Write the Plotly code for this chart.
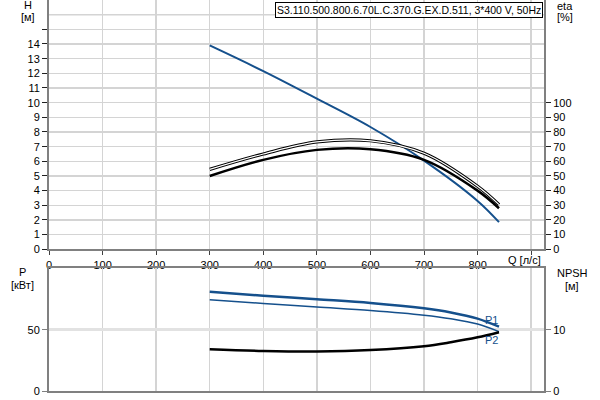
import plotly.graph_objects as go

# ---- data ----
q_h = [300, 400, 500, 600, 700, 800, 840]
head_m = [13.9, 12.15, 10.27, 8.34, 6.05, 3.3, 1.85]

q_eta = [300, 400, 500, 600, 700, 800, 840]
eta_lower = [50, 61.0, 67.8, 68.2, 61.0, 40.0, 28.0]
eta_upper = [54.5, 65.0, 73.2, 74.0, 65.5, 43.0, 30.5]

q_p = [300, 400, 500, 600, 700, 750, 800, 840]
p1_kw = [80.8, 77.7, 74.8, 71.8, 67.4, 64.0, 59.0, 52.4]
p2_kw = [74.4, 71.3, 68.4, 65.6, 61.8, 58.9, 54.6, 48.4]
npsh_m = [6.82, 6.54, 6.45, 6.68, 7.3, 7.95, 8.75, 9.58]

q_ticks = [0, 100, 200, 300, 400, 500, 600, 700, 800, 900]
q_ticktext = ["0", "100", "200", "300", "400", "500", "600", "700", "800", ""]
h_ticks = list(range(0, 16))
h_ticktext = [str(v) for v in range(0, 15)] + [""]
eta_ticks = list(range(0, 101, 10))

title_text = "S3.110.500.800.6.70L.C.370.G.EX.D.511, 3*400 V, 50Hz"

BLUE = "#15508c"
FONT = "Liberation Sans"
AX = "#808080"
GRID = "#d4d4d4"

W, H = 600, 400
L, R, T, B = 49, 56, 0, 9
PW, PH = W - L - R, H - T - B


def px(x):
    return (x - L) / PW


def py(y):
    return (H - B - y) / PH


top_dom = [py(249.3), 1]
bot_dom = [0, py(268.3)]

fig = go.Figure()

fig.add_trace(go.Scatter(x=q_h, y=head_m, mode="lines", line=dict(color=BLUE, width=2, shape="spline"),
                         xaxis="x", yaxis="y", showlegend=False))
fig.add_trace(go.Scatter(x=q_eta, y=eta_upper, mode="lines", line=dict(color="black", width=3.2, shape="spline"),
                         xaxis="x", yaxis="y2", showlegend=False))
fig.add_trace(go.Scatter(x=q_eta, y=eta_upper, mode="lines", line=dict(color="white", width=1.2, shape="spline"),
                         xaxis="x", yaxis="y2", showlegend=False))
fig.add_trace(go.Scatter(x=q_eta, y=eta_lower, mode="lines", line=dict(color="black", width=2.5, shape="spline"),
                         xaxis="x", yaxis="y2", showlegend=False))

fig.add_trace(go.Scatter(x=q_p, y=p1_kw, mode="lines", line=dict(color=BLUE, width=2.5, shape="spline"),
                         xaxis="x2", yaxis="y3", showlegend=False))
fig.add_trace(go.Scatter(x=q_p, y=p2_kw, mode="lines", line=dict(color=BLUE, width=1.5, shape="spline"),
                         xaxis="x2", yaxis="y3", showlegend=False))
fig.add_trace(go.Scatter(x=q_p, y=npsh_m, mode="lines", line=dict(color="black", width=2.5, shape="spline"),
                         xaxis="x2", yaxis="y4", showlegend=False))

tickfont = dict(family=FONT, size=11, color="black")

fig.update_layout(
    width=W, height=H,
    margin=dict(l=L, r=R, t=T, b=B, autoexpand=False),
    paper_bgcolor="white", plot_bgcolor="white",
    font=dict(family=FONT, size=11, color="black"),
    hovermode=False,
    xaxis=dict(domain=[0, 1], range=[0, 924], anchor="y", tickmode="array", tickvals=q_ticks,
               ticktext=q_ticktext, showgrid=True, gridcolor=GRID, gridwidth=1.5, zeroline=False,
               showline=True, linecolor=AX, linewidth=2, ticks="outside", ticklen=4, tickcolor="#404040",
               tickfont=tickfont),
    yaxis=dict(domain=top_dom, range=[0, 17], tickmode="array", tickvals=h_ticks, ticktext=h_ticktext,
               showgrid=True, gridcolor=GRID, gridwidth=1.5, zeroline=False, showline=True, linecolor=AX,
               linewidth=2, ticks="outside", ticklen=5, tickcolor="#202020", tickfont=tickfont),
    yaxis2=dict(overlaying="y", side="right", anchor="x", range=[0, 170], tickmode="array", tickvals=eta_ticks,
                showgrid=False, zeroline=False, showline=True, linecolor=AX, linewidth=2, ticks="outside",
                ticklen=5, tickcolor="#202020", tickfont=tickfont),
    xaxis2=dict(domain=[0, 1], range=[0, 924], anchor="y3", tickmode="array", tickvals=q_ticks,
                showticklabels=False, showgrid=True, gridcolor=GRID, gridwidth=1.5, zeroline=False,
                showline=True, mirror=True, linecolor=AX, linewidth=2, ticks=""),
    yaxis3=dict(domain=bot_dom, range=[0, 100], tickmode="array", tickvals=[0, 50], showgrid=True,
                gridcolor="#e2e2e2", gridwidth=2.5, zeroline=False, showline=True, linecolor=AX, linewidth=2,
                ticks="outside", ticklen=5, tickcolor="#808080", tickfont=tickfont),
    yaxis4=dict(overlaying="y3", side="right", anchor="x2", range=[0, 20], tickmode="array", tickvals=[0, 10],
                showgrid=False, zeroline=False, showline=True, linecolor=AX, linewidth=2, ticks="outside",
                ticklen=5, tickcolor="#808080", tickfont=tickfont),
)

# extra gridline at H = 16
fig.add_shape(type="line", xref="paper", yref="y", x0=0, x1=1, y0=16, y1=16,
              line=dict(color=GRID, width=1.5), layer="below")


def ann(text, x, y, color="black", **kw):
    fig.add_annotation(text=text, x=px(x), y=py(y), xref="paper", yref="paper", showarrow=False,
                       xanchor="center", yanchor="middle", font=dict(family=FONT, size=11, color=color), **kw)


ann("H", 28, 5)
ann("[м]", 28, 17)
ann("eta", 565, 6)
ann("[%]", 565, 17)
ann("P", 22, 271.5)
ann("[кВт]", 22, 285)
ann("NPSH", 572, 273)
ann("[м]", 572, 286)
ann("Q [л/с]", 524, 260)
ann("P1", 491, 319.5, color=BLUE)
ann("P2", 491, 340, color=BLUE)

fig.add_annotation(text=title_text, x=px(543), y=py(2), xref="paper", yref="paper", showarrow=False,
                   xanchor="right", yanchor="top", bgcolor="white", bordercolor="black", borderwidth=1,
                   borderpad=1, font=dict(family=FONT, size=10.5, color="black"))

fig.write_html("out.html", config={"displayModeBar": False, "staticPlot": True},
               post_script="document.body.style.margin='0';document.body.style.overflow='hidden';")
